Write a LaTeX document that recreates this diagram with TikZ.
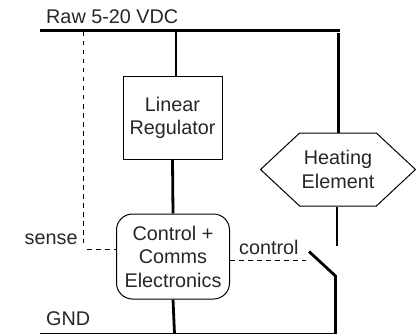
\documentclass[tikz,border=0pt]{standalone}
\usepackage{fontspec}
\setmainfont{Liberation Sans}
\usetikzlibrary{shapes.symbols}
\tikzset{
    txt/.style={font=\fontsize{19.8}{23.5}\selectfont,text=black!85,align=center,inner sep=0pt},
    wire/.style={draw,line width=2.8pt},
    signalline/.style={draw,line width=1pt,dash pattern=on 4.5pt off 4.5pt},
}
\begin{document}
\begin{tikzpicture}[x=1pt,y=-1pt]
        \useasboundingbox (0,0) rectangle (417,334);
        %% Rails
        \coordinate (rawL) at (40,30.5);
        \coordinate (rawR) at (340,30.5);
        \coordinate (gndL) at (40,334.5);
        \coordinate (gndR) at (336.5,334.5);
        \draw[wire] (rawL) -- (rawR);
        \draw[wire] (gndL) -- (gndR);
        \node[txt,anchor=base west] (rawlabel) at (46,24) {Raw 5-20 VDC};
        \node[txt,anchor=base west] (gndlabel) at (46,325) {GND};
        %% Blocks
        \node[draw,line width=1pt,txt,minimum width=99pt,minimum height=83pt] (reg) at (172.5,118) {Linear\\Regulator};
        \node[draw,line width=1pt,txt,rounded corners=16pt,minimum width=113pt,minimum height=85pt] (ctrl) at (173,256.5) {Control +\\Comms\\Electronics};
        \node[draw,line width=1pt,txt,signal,signal to=west and east,signal pointer angle=86,minimum width=155pt,minimum height=73pt] (heat) at (338,169.5) {Heating\\Element};
        %% Power wires
        \coordinate (regtap) at (176,30.5);
        \coordinate (heattap) at (338.5,33.5);
        \coordinate (gndtap) at (174.5,334);
        \coordinate (heatend) at (337,246);
        \coordinate (swfree) at (309,251.5);
        \coordinate (swpivot) at (335.5,276);
        \coordinate (swbase) at (335.5,334);
        \draw[wire] (regtap) -- (regtap |- reg.north);
        \draw[wire] (reg.south) -- (ctrl.north);
        \draw[wire] (ctrl.south) -- (gndtap);
        \draw[wire] (heattap) -- (heattap |- heat.north);
        \draw[wire] (heatend |- heat.south) -- (heatend);
        \draw[wire] (swfree) -- (swpivot) -- (swbase);
        %% Sense and control
        \coordinate (sensetop) at (83.3,32);
        \coordinate (sensecnr) at (83.3,243);
        \coordinate (senseend) at (87,249);
        \coordinate (ctrlend) at (306,260.5);
        \draw[signalline] (sensetop) -- (sensecnr);
        \draw[signalline] (senseend) -- (senseend -| ctrl.west);
        \draw[signalline] (ctrl.east |- ctrlend) -- (ctrlend);
        \node[txt,anchor=base west] (senselabel) at (24.5,244) {sense};
        \node[txt,anchor=base west] (ctrllabel) at (239,254) {control};
    \end{tikzpicture}
\end{document}
